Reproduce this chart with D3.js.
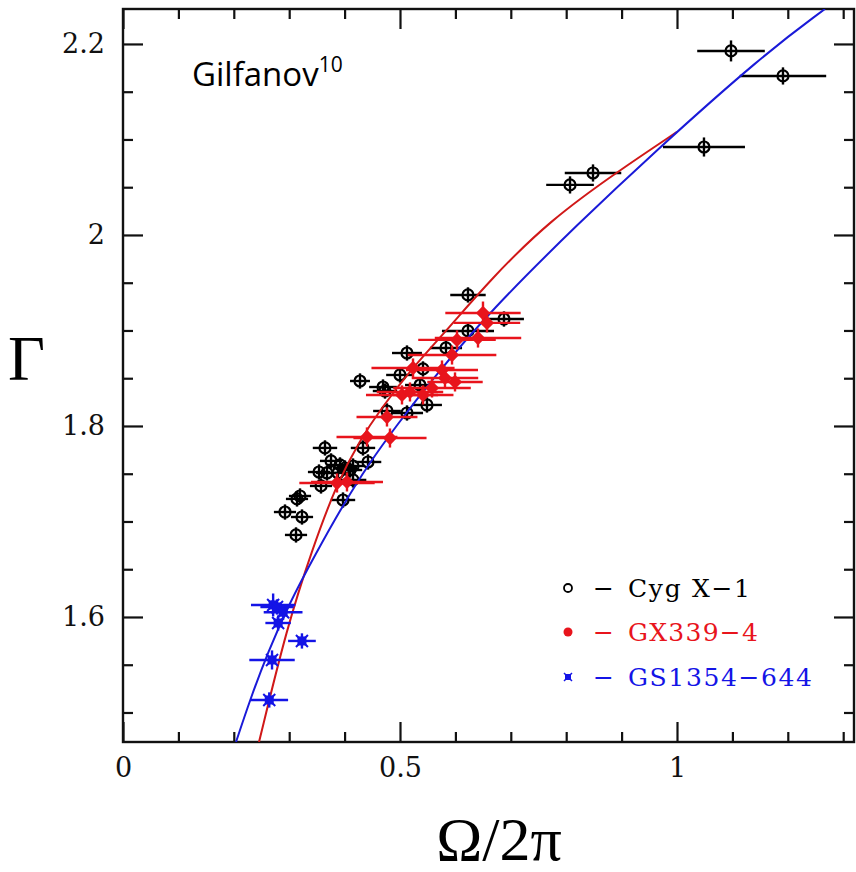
<!DOCTYPE html>
<html>
<head>
<meta charset="utf-8">
<script src="https://cdn.jsdelivr.net/npm/d3@7"></script>
<style>
  html, body { margin: 0; padding: 0; background: #fff; }
  svg { display: block; }
</style>
</head>
<body>
<svg id="chart" width="856" height="872"></svg>
<script>
// Reflection fraction Omega/2pi versus photon index Gamma

// Cyg X-1: [Omega/2pi, Gamma, x error, y error]
const cygX1 = [
  [1.0975, 2.1927, 0.061, 0.011], [1.1913, 2.1665, 0.078, 0.009], [1.0487, 2.0921, 0.074, 0.010],
  [0.8069, 2.0524, 0.043, 0.009], [0.8484, 2.0649, 0.051, 0.009], [0.6227, 1.9372, 0.032, 0.008],
  [0.6877, 1.9120, 0.036, 0.008], [0.6227, 1.8995, 0.047, 0.008], [0.5830, 1.8817, 0.029, 0.008],
  [0.5126, 1.8764, 0.027, 0.008], [0.5415, 1.8597, 0.027, 0.008], [0.5000, 1.8534, 0.025, 0.008],
  [0.4693, 1.8408, 0.025, 0.008], [0.5361, 1.8429, 0.027, 0.008], [0.5487, 1.8220, 0.027, 0.008],
  [0.5126, 1.8136, 0.029, 0.008], [0.4765, 1.8157, 0.025, 0.008], [0.4278, 1.8471, 0.018, 0.008],
  [0.4729, 1.8366, 0.022, 0.008], [0.4332, 1.7770, 0.022, 0.008], [0.3646, 1.7770, 0.022, 0.008],
  [0.3755, 1.7634, 0.020, 0.008], [0.3538, 1.7518, 0.020, 0.008], [0.3682, 1.7508, 0.020, 0.008],
  [0.3574, 1.7372, 0.020, 0.008], [0.3917, 1.7592, 0.022, 0.008], [0.4007, 1.7560, 0.022, 0.008],
  [0.4097, 1.7539, 0.022, 0.008], [0.3881, 1.7508, 0.022, 0.008], [0.4152, 1.7581, 0.022, 0.008],
  [0.4422, 1.7623, 0.024, 0.008], [0.4152, 1.7435, 0.024, 0.008], [0.3971, 1.7225, 0.022, 0.008],
  [0.3195, 1.7267, 0.020, 0.008], [0.3141, 1.7236, 0.020, 0.008], [0.2924, 1.7099, 0.020, 0.008],
  [0.3231, 1.7047, 0.020, 0.008], [0.3123, 1.6859, 0.020, 0.008]
];

// GX339-4
const gx339 = [
  [0.6498, 1.9183, 0.068, 0.012], [0.6570, 1.9079, 0.060, 0.010], [0.6408, 1.8921, 0.078, 0.010],
  [0.6029, 1.8901, 0.070, 0.010], [0.5939, 1.8743, 0.080, 0.010], [0.5235, 1.8607, 0.075, 0.010],
  [0.5758, 1.8586, 0.065, 0.010], [0.5812, 1.8503, 0.060, 0.010], [0.5993, 1.8461, 0.050, 0.010],
  [0.5578, 1.8398, 0.070, 0.010], [0.5036, 1.8325, 0.065, 0.010], [0.5415, 1.8325, 0.055, 0.010],
  [0.5180, 1.8356, 0.060, 0.010], [0.4765, 1.8094, 0.055, 0.010], [0.4404, 1.7885, 0.055, 0.010],
  [0.4819, 1.7874, 0.066, 0.010], [0.3863, 1.7403, 0.068, 0.010], [0.4043, 1.7414, 0.065, 0.010]
];

// GS1354-644
const gs1354 = [
  [0.271, 1.6126, 0.040, 0.012], [0.278, 1.6105, 0.030, 0.008], [0.289, 1.6050, 0.035, 0.008],
  [0.280, 1.5937, 0.023, 0.008], [0.323, 1.5749, 0.025, 0.008], [0.269, 1.5550, 0.041, 0.010],
  [0.264, 1.5131, 0.034, 0.008]
];

// Model curves
const blueModelX = [0.2040, 0.2292, 0.2617, 0.3014, 0.3466, 0.3971, 0.4458, 0.4946, 0.5542, 0.6625, 0.8249, 0.9513, 1.1552, 1.2671];
const blueModelY = [1.4691, 1.5131, 1.5634, 1.6157, 1.6649, 1.7173, 1.7623, 1.8010, 1.8461, 1.9204, 2.0136, 2.0827, 2.1885, 2.2366];
const redModelX = [0.2455, 0.296, 0.341, 0.386, 0.428, 0.464, 0.5235, 0.585, 0.6625, 0.771, 0.897, 1.0];
const redModelY = [1.469, 1.5895, 1.670, 1.740, 1.7853, 1.8168, 1.8618, 1.9005, 1.953, 2.0157, 2.068, 2.1079];

// Axis ticks
const xMajorTicks = [0, 0.5, 1];
const xMinorTicks = [0.1, 0.2, 0.3, 0.4, 0.6, 0.7, 0.8, 0.9, 1.1, 1.2, 1.3];
const yMajorTicks = [1.6, 1.8, 2.0, 2.2];
const yMinorTicks = [1.5, 1.55, 1.65, 1.7, 1.75, 1.85, 1.9, 1.95, 2.05, 2.1, 2.15];
const xTickLabels = ["0", "0.5", "1"];
const yTickLabels = ["1.6", "1.8", "2", "2.2"];

const legendLabels = ["Cyg X\u22121", "GX339\u22124", "GS1354\u2212644"];

const colBlack = "#000000", colRed = "#e8141c", colBlue = "#1414e6";
const colRedLine = "#d01818", colBlueLine = "#1a1ad8";

const svg = d3.select("#chart");
const L = 123, R = 854, T = 9, B = 742;
const x = d3.scaleLinear().domain([0, 1.3195]).range([L, R]);
const y = d3.scaleLinear().domain([1.4691, 2.2366]).range([B, T]);

const tickFont = "DejaVu Serif";

// Axes with inward ticks
function drawAxis(axisGen, transform, ticks, size, labels) {
  const g = svg.append("g").attr("transform", transform)
    .call(axisGen.tickValues(ticks).tickSize(size).tickSizeOuter(0)
      .tickFormat((d, i) => labels ? labels[i] : ""));
  g.select(".domain").remove();
  g.selectAll(".tick line").attr("stroke", "#111").attr("stroke-width", 2.2);
  g.selectAll(".tick text").attr("font-family", tickFont).attr("font-size", 27).attr("fill", "#111");
  return g;
}
drawAxis(d3.axisBottom(x).tickPadding(16), `translate(0,${B})`, xMajorTicks, -20, xTickLabels);
drawAxis(d3.axisBottom(x), `translate(0,${B})`, xMinorTicks, -10, null);
drawAxis(d3.axisTop(x), `translate(0,${T})`, xMajorTicks, -20, null);
drawAxis(d3.axisTop(x), `translate(0,${T})`, xMinorTicks, -10, null);
drawAxis(d3.axisLeft(y).tickPadding(18), `translate(${L},0)`, yMajorTicks, -20, yTickLabels);
drawAxis(d3.axisLeft(y), `translate(${L},0)`, yMinorTicks, -10, null);
drawAxis(d3.axisRight(y), `translate(${R},0)`, yMajorTicks, -20, null);
drawAxis(d3.axisRight(y), `translate(${R},0)`, yMinorTicks, -10, null);

// Frame
svg.append("rect").attr("x", L).attr("y", T).attr("width", R - L).attr("height", B - T)
  .attr("fill", "none").attr("stroke", "#111").attr("stroke-width", 2.4);

const plot = svg.append("g");
plot.append("clipPath").attr("id", "clip").append("rect")
  .attr("x", L).attr("y", T).attr("width", R - L).attr("height", B - T);
const clipped = plot.append("g").attr("clip-path", "url(#clip)");

function errorBars(g, data, color, w) {
  const eb = g.append("g").attr("stroke", color).attr("stroke-width", w);
  eb.selectAll("line.h").data(data).join("line").attr("class", "h")
    .attr("x1", d => x(d[0] - d[2])).attr("x2", d => x(d[0] + d[2]))
    .attr("y1", d => y(d[1])).attr("y2", d => y(d[1]));
  eb.selectAll("line.v").data(data).join("line").attr("class", "v")
    .attr("x1", d => x(d[0])).attr("x2", d => x(d[0]))
    .attr("y1", d => y(d[1] - d[3])).attr("y2", d => y(d[1] + d[3]));
}

// Cyg X-1: open circles with error bars
errorBars(clipped, cygX1, colBlack, 2.4);
clipped.append("g").selectAll("circle").data(cygX1).join("circle")
  .attr("cx", d => x(d[0])).attr("cy", d => y(d[1])).attr("r", 5.5)
  .attr("fill", "none").attr("stroke", colBlack).attr("stroke-width", 2.2);

// Model curves
const lineGen = d3.line().x(d => x(d[0])).y(d => y(d[1])).curve(d3.curveBasis);
clipped.append("path").datum(redModelX.map((v, i) => [v, redModelY[i]]))
  .attr("d", lineGen).attr("fill", "none").attr("stroke", colRedLine).attr("stroke-width", 2);
clipped.append("path").datum(blueModelX.map((v, i) => [v, blueModelY[i]]))
  .attr("d", lineGen).attr("fill", "none").attr("stroke", colBlueLine).attr("stroke-width", 2);

// GX339-4: filled diamonds
errorBars(clipped, gx339, colRed, 2.4);
clipped.append("g").selectAll("path").data(gx339).join("path")
  .attr("transform", d => `translate(${x(d[0])},${y(d[1])})`)
  .attr("d", d3.symbol(d3.symbolDiamond2, 130)).attr("fill", colRed);

// GS1354-644: star markers
errorBars(clipped, gs1354, colBlue, 2.4);
const stars = clipped.append("g").selectAll("g").data(gs1354).join("g")
  .attr("transform", d => `translate(${x(d[0])},${y(d[1])})`);
stars.append("rect").attr("x", -4.5).attr("y", -4.5).attr("width", 9).attr("height", 9).attr("fill", colBlue);
stars.append("path").attr("d", "M-6,-6L6,6M6,-6L-6,6").attr("stroke", colBlue).attr("stroke-width", 2);

// Legend
const legendColors = [colBlack, colRed, colBlue];
const legendY = [588, 632, 677];
const legendWidths = [122, 130, 184];
const lg = svg.append("g");
lg.append("circle").attr("cx", 568).attr("cy", legendY[0]).attr("r", 4)
  .attr("fill", "none").attr("stroke", colBlack).attr("stroke-width", 1.8);
lg.append("circle").attr("cx", 568).attr("cy", legendY[1]).attr("r", 4.5).attr("fill", colRed);
lg.append("rect").attr("x", 565).attr("y", legendY[2] - 3).attr("width", 6).attr("height", 6).attr("fill", colBlue);
lg.append("path").attr("transform", `translate(568,${legendY[2]})`).attr("d", "M-4,-4L4,4M4,-4L-4,4")
  .attr("stroke", colBlue).attr("stroke-width", 1.5);
legendLabels.forEach((t, i) => {
  lg.append("text").attr("x", 593).attr("y", legendY[i] + 9)
    .attr("font-family", tickFont).attr("font-size", 25).attr("fill", legendColors[i]).text("\u2212");
  lg.append("text").attr("x", 628).attr("y", legendY[i] + 9)
    .attr("font-family", tickFont).attr("font-size", 25).attr("fill", legendColors[i])
    .attr("textLength", legendWidths[i]).attr("lengthAdjust", "spacing").text(t);
});

// Citation note
const note = svg.append("text").attr("x", 192).attr("y", 86)
  .attr("font-family", "Open Sans").attr("font-size", 33).attr("fill", "#000");
note.append("tspan").text("Gilfanov");
note.append("tspan").attr("font-size", 21).attr("dy", -14).text("10");

// Axis titles
svg.append("text").attr("x", 8).attr("y", 380)
  .attr("font-family", "Liberation Serif").attr("font-size", 64).attr("fill", "#000").text("\u0393");
svg.append("text").attr("x", 499).attr("y", 860).attr("text-anchor", "middle")
  .attr("font-family", "Liberation Serif").attr("font-size", 62).attr("fill", "#000").text("\u03A9/2\u03C0");
</script>
</body>
</html>
